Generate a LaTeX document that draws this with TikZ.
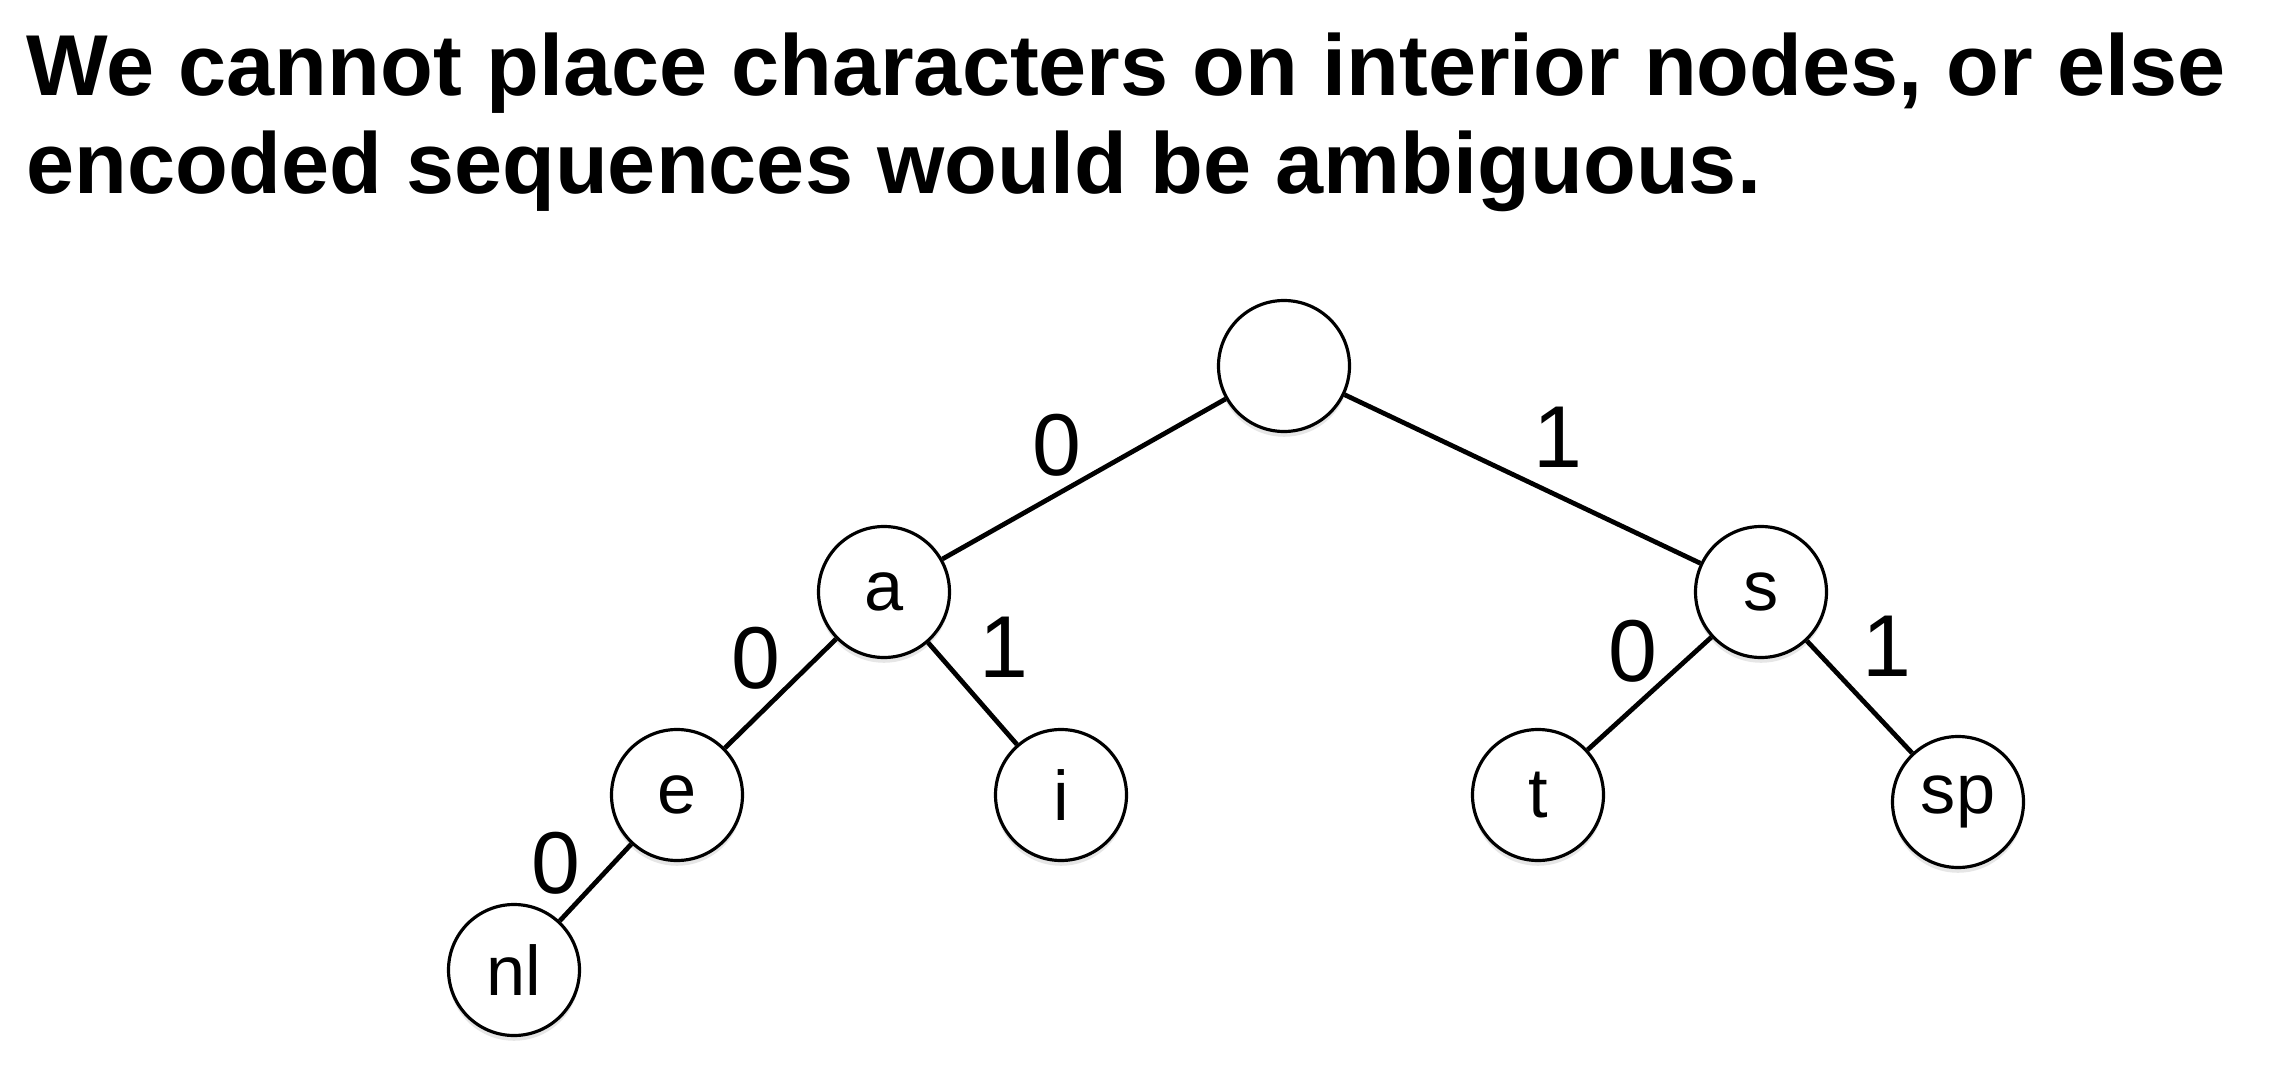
\documentclass[tikz,border=0pt]{standalone}
\usepackage{fontspec}
\setmainfont{Liberation Sans}
\usepackage{tikz}
\usetikzlibrary{positioning,shadows}

\begin{document}
\begin{tikzpicture}[auto,on grid,
    state/.style={circle,draw,line width=0.9pt,fill=white,minimum size=1.31cm,inner sep=0pt,
      font=\fontsize{20}{20}\selectfont,
      drop shadow={shadow xshift=0pt,shadow yshift=-1.5pt,opacity=0.2}},
    bit/.style={font=\fontsize{25}{25}\selectfont,inner sep=0pt},
    one/.style={bit,inner sep=2.5pt}]
  \useasboundingbox (0,0) rectangle (22.88,-10.68);
  \node[anchor=north west,align=left,inner sep=0pt,font=\bfseries\fontsize{24.6}{28}\selectfont]
    (title) at (0.26,-0.32)
    {We cannot place characters on interior nodes, or else\\encoded sequences would be ambiguous.};

  \node[state] (root) at (12.84,-3.66) {};
  \node[state] (a)  [below left=2.26cm and 4.00cm of root]  {a};
  \node[state] (s)  [below right=2.26cm and 4.77cm of root] {s};
  \node[state] (e)  [below left=2.03cm and 2.07cm of a]     {e};
  \node[state] (i)  [below right=2.03cm and 1.77cm of a]    {i};
  \node[state] (nl) [below left=1.75cm and 1.63cm of e]     {nl};
  \node[state] (t)  [below left=2.03cm and 2.23cm of s]     {t};
  \node[state] (sp) [below right=2.10cm and 1.97cm of s]    {sp};
  \path[line width=1.35pt]
    (root)
      edge node[bit,swap]{0}(a)
      edge node[one]{1}(s)
    (a)
      edge node[bit,swap,pos=0.48]{0}(e)
      edge node[one,pos=0.45]{1}(i)
    (e)
      edge node[bit,swap,pos=0.68]{0}(nl)
    (s)
      edge node[bit,swap,pos=0.42]{0}(t)
      edge node[one,pos=0.42]{1}(sp)
  ;
\end{tikzpicture}
\end{document}
